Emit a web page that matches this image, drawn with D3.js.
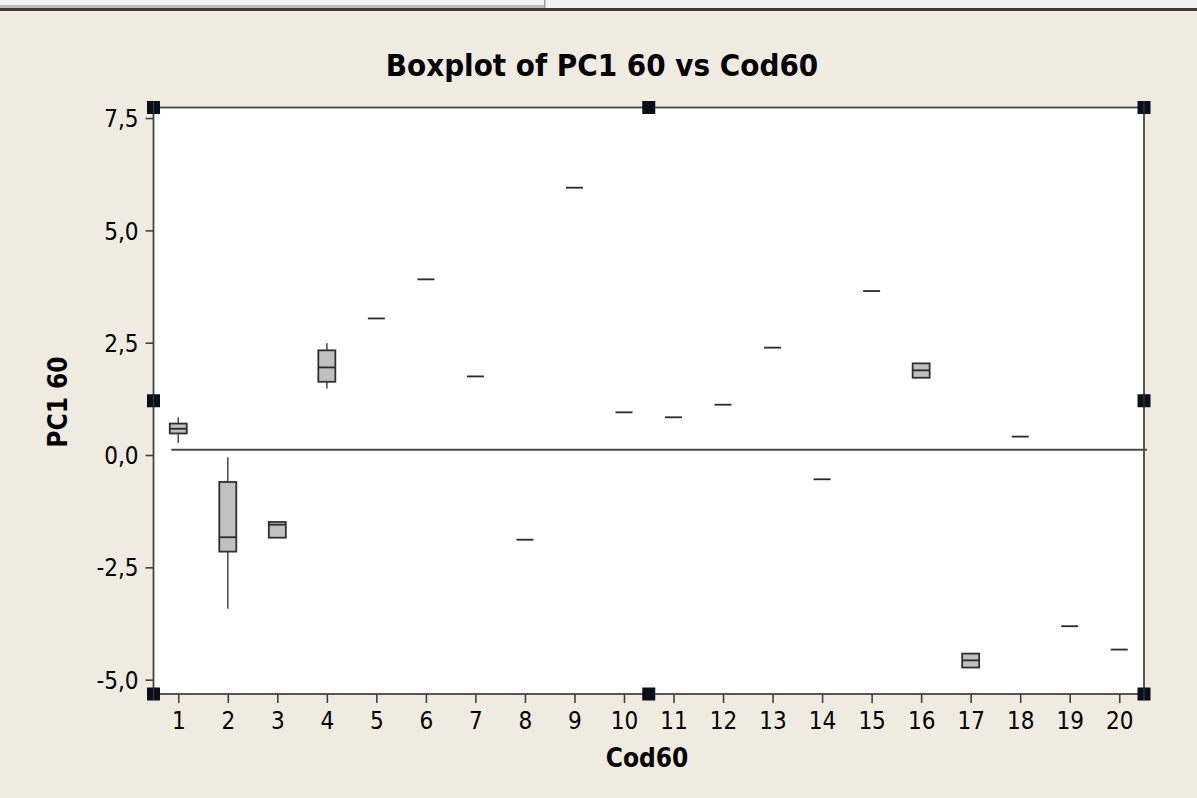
<!DOCTYPE html>
<html>
<head>
<meta charset="utf-8">
<script src="https://cdn.jsdelivr.net/npm/d3@7"></script>
<style>
  html, body { margin: 0; padding: 0; background: #EFEBE0; overflow: hidden; }
  svg { display: block; }
  .txt { font-family: 'DejaVu Sans Condensed', 'DejaVu Sans', sans-serif; font-stretch: condensed; fill: #000; }
</style>
</head>
<body>
<svg id="chart" width="1197" height="798"></svg>
<script>
// Groups of Cod60 and the five-number summary of PC1 60 in each group.
// Groups with a single observation have all five values equal.
const categories  = ["1","2","3","4","5","6","7","8","9","10","11","12","13","14","15","16","17","18","19","20"];
const q1          = [0.48, -2.15, -1.84, 1.63, 3.04, 3.91, 1.75, -1.885, 5.95, 0.95, 0.84, 1.12, 2.39, -0.54, 3.65, 1.72, -4.73, 0.41, -3.81, -4.33];
const median      = [0.585, -1.83, -1.55, 1.95, 3.04, 3.91, 1.75, -1.885, 5.95, 0.95, 0.84, 1.12, 2.39, -0.54, 3.65, 1.885, -4.57, 0.41, -3.81, -4.33];
const q3          = [0.70, -0.60, -1.49, 2.33, 3.04, 3.91, 1.75, -1.885, 5.95, 0.95, 0.84, 1.12, 2.39, -0.54, 3.65, 2.04, -4.42, 0.41, -3.81, -4.33];
const whiskerLow  = [0.27, -3.42, -1.84, 1.48, 3.04, 3.91, 1.75, -1.885, 5.95, 0.95, 0.84, 1.12, 2.39, -0.54, 3.65, 1.72, -4.73, 0.41, -3.81, -4.33];
const whiskerHigh = [0.84, -0.05, -1.49, 2.49, 3.04, 3.91, 1.75, -1.885, 5.95, 0.95, 0.84, 1.12, 2.39, -0.54, 3.65, 2.04, -4.42, 0.41, -3.81, -4.33];

// Y axis ticks and their labels (comma as decimal separator)
const yTicks      = [-5, -2.5, 0, 2.5, 5, 7.5];
const yTickLabels = ["-5,0", "-2,5", "0,0", "2,5", "5,0", "7,5"];

// Horizontal reference line (overall mean) and its extent in group units
const referenceValue = 0.12;
const referenceSpan  = [0.86, 20.56];

const titleText  = "Boxplot of PC1 60 vs Cod60";
const xAxisTitle = "Cod60";
const yAxisTitle = "PC1 60";

// ---------------------------------------------------------------
const W = 1197, H = 798;
const frame = { left: 153.5, right: 1144, top: 107.5, bottom: 694 };

const svg = d3.select("#chart");

// window chrome strip along the top
svg.append("rect").attr("x", 0).attr("y", 0).attr("width", W).attr("height", 9).attr("fill", "#f2f2f2");
svg.append("rect").attr("x", 0).attr("y", 5).attr("width", 544).attr("height", 3).attr("fill", "#bdbdbd");
svg.append("rect").attr("x", 544).attr("y", 0).attr("width", 1.5).attr("height", 8).attr("fill", "#9a9a9a");
svg.append("rect").attr("x", 0).attr("y", 8).attr("width", W).attr("height", 3).attr("fill", "#3b3b3b");

const x = d3.scaleLinear().domain([0.5, 20.5]).range([frame.left, frame.right]);
const y = d3.scaleLinear().domain([-5.319, 7.735]).range([frame.bottom, frame.top]);

// plotting area
svg.append("rect")
  .attr("x", frame.left).attr("y", frame.top)
  .attr("width", frame.right - frame.left).attr("height", frame.bottom - frame.top)
  .attr("fill", "#ffffff");

const data = categories.map((c, i) => ({
  cat: +c, q1: q1[i], med: median[i], q3: q3[i], lo: whiskerLow[i], hi: whiskerHigh[i]
}));

// reference line
svg.append("line")
  .attr("x1", x(referenceSpan[0])).attr("x2", x(referenceSpan[1]))
  .attr("y1", y(referenceValue)).attr("y2", y(referenceValue))
  .attr("stroke", "#4a4a4a").attr("stroke-width", 2);

const halfBox = 8.5;
const g = svg.append("g");

// whiskers
data.forEach(d => {
  if (d.hi > d.q3) {
    g.append("line").attr("x1", x(d.cat)).attr("x2", x(d.cat))
      .attr("y1", y(d.q3)).attr("y2", y(d.hi))
      .attr("stroke", "#505050").attr("stroke-width", 1.6);
  }
  if (d.lo < d.q1) {
    g.append("line").attr("x1", x(d.cat)).attr("x2", x(d.cat))
      .attr("y1", y(d.q1)).attr("y2", y(d.lo))
      .attr("stroke", "#505050").attr("stroke-width", 1.6);
  }
});

// boxes
g.selectAll("rect.box")
  .data(data.filter(d => d.q3 > d.q1))
  .join("rect")
  .attr("class", "box")
  .attr("x", d => x(d.cat) - halfBox)
  .attr("y", d => y(d.q3))
  .attr("width", halfBox * 2)
  .attr("height", d => y(d.q1) - y(d.q3))
  .attr("fill", "#c0c0c0")
  .attr("stroke", "#303030")
  .attr("stroke-width", 1.8);

// medians (single observations show as a lone median bar)
g.selectAll("line.med")
  .data(data)
  .join("line")
  .attr("class", "med")
  .attr("x1", d => x(d.cat) - halfBox)
  .attr("x2", d => x(d.cat) + halfBox)
  .attr("y1", d => y(d.med))
  .attr("y2", d => y(d.med))
  .attr("stroke", "#2a2a2a")
  .attr("stroke-width", 1.8);

// frame
svg.append("rect")
  .attr("x", frame.left).attr("y", frame.top)
  .attr("width", frame.right - frame.left).attr("height", frame.bottom - frame.top)
  .attr("fill", "none").attr("stroke", "#454545").attr("stroke-width", 1.8);

// y axis ticks
const yAxis = d3.axisLeft(y).tickValues(yTicks).tickSize(8).tickPadding(7)
  .tickFormat((d, i) => yTickLabels[i]);
const ya = svg.append("g").attr("transform", `translate(${frame.left},0)`).call(yAxis);
ya.select(".domain").remove();
ya.selectAll(".tick line").attr("stroke", "#404040").attr("stroke-width", 1.6);
ya.selectAll(".tick text").attr("class", "txt").attr("font-size", 24).attr("dy", "0.36em");

// x axis ticks
const xAxis = d3.axisBottom(x).tickValues(categories.map(Number)).tickSize(9).tickPadding(8)
  .tickFormat((d, i) => categories[i]);
const xa = svg.append("g").attr("transform", `translate(0,${frame.bottom})`).call(xAxis);
xa.select(".domain").remove();
xa.selectAll(".tick line").attr("stroke", "#404040").attr("stroke-width", 1.6);
xa.selectAll(".tick text").attr("class", "txt").attr("font-size", 24).attr("dy", "0.74em");

// selection handles on the frame
const hx = [frame.left, (frame.left + frame.right) / 2, frame.right];
const hy = [frame.top, (frame.top + frame.bottom) / 2, frame.bottom];
const handles = [];
hx.forEach((px, i) => hy.forEach((py, j) => { if (!(i === 1 && j === 1)) handles.push([px, py]); }));
svg.selectAll("rect.handle")
  .data(handles)
  .join("rect")
  .attr("class", "handle")
  .attr("x", d => d[0] - 6.5).attr("y", d => d[1] - 6.5)
  .attr("width", 13).attr("height", 13)
  .attr("fill", "#0b0f1c");
svg.selectAll("line.hline")
  .data(handles)
  .join("line")
  .attr("class", "hline")
  .attr("x1", d => d[0]).attr("x2", d => d[0])
  .attr("y1", d => d[1] - 6).attr("y2", d => d[1] + 6)
  .attr("stroke", d => d[0] === hx[1] ? "none" : "#3a3a3a").attr("stroke-width", 1.2);

// titles
svg.append("text").attr("class", "txt")
  .attr("x", 602).attr("y", 76)
  .attr("text-anchor", "middle").attr("font-size", 31).attr("font-weight", "bold")
  .text(titleText);

svg.append("text").attr("class", "txt")
  .attr("x", 647).attr("y", 767)
  .attr("text-anchor", "middle").attr("font-size", 26).attr("font-weight", "bold")
  .text(xAxisTitle);

svg.append("text").attr("class", "txt")
  .attr("transform", "translate(66.5,402) rotate(-90)")
  .attr("text-anchor", "middle").attr("font-size", 26).attr("font-weight", "bold")
  .text(yAxisTitle);
</script>
</body>
</html>
